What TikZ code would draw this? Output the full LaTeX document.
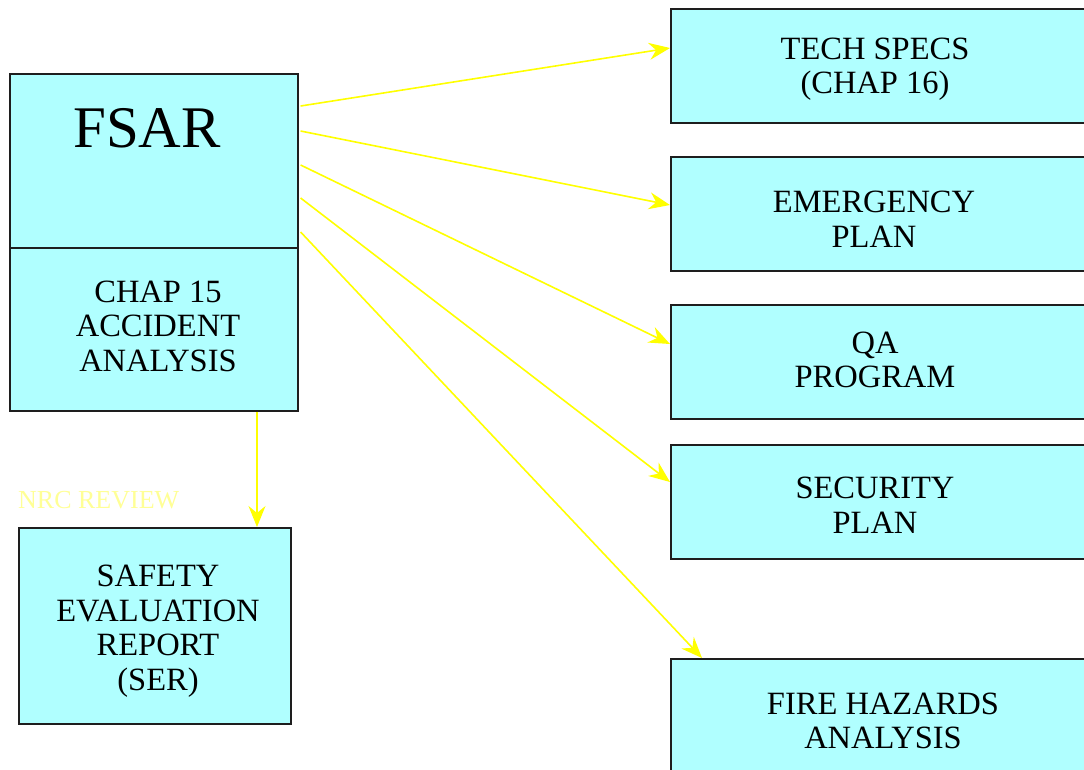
\documentclass[tikz,border=0pt]{standalone}
\usepackage{fontspec}
\setmainfont{Liberation Serif}
\usetikzlibrary{arrows.meta,calc}
\definecolor{boxfill}{RGB}{176,255,255}
\definecolor{boxline}{RGB}{30,30,30}
\definecolor{link}{RGB}{255,255,0}
\definecolor{notetext}{RGB}{255,255,150}
\tikzset{
  docbox/.style={draw=boxline, fill=boxfill, line width=1.6pt, inner sep=0pt, align=center},
  rightbox/.style={docbox, minimum width=420pt, minimum height=114pt, anchor=north west},
  label/.style={align=center, font=\fontsize{32.5}{34.5}\selectfont},
  flow/.style={draw=link, line width=1.6pt, -{Stealth[length=21pt,width=17pt,inset=7pt]}}
}
\begin{document}
\begin{tikzpicture}[x=1pt,y=-1pt]
\useasboundingbox (0,0) rectangle (1084,769);
\clip (0,0) rectangle (1084,769);
\fill[white] (0,0) rectangle (1084,769);

% main document box with its chapter 15 section
\node[docbox, minimum width=288pt, minimum height=174pt, anchor=north west] (fsar) at (9,73) {};
\node[docbox, minimum width=288pt, minimum height=163pt, anchor=north west] (chap) at (9,247) {};
\node[font=\fontsize{59}{60}\selectfont, anchor=center] (fsartxt) at (147,128) {FSAR};
\node[label] (chaptxt) at (158,326) {CHAP 15\\ACCIDENT\\ANALYSIS};

% review outcome
\node[docbox, minimum width=272pt, minimum height=196pt, anchor=north west] (ser) at (18,527) {};
\node[label] (sertxt) at (158,631) {SAFETY\\EVALUATION\\REPORT\\(SER)};
\node[anchor=west, text=notetext, font=\fontsize{26}{27}\selectfont, inner sep=0pt] (nrc) at (18,500) {NRC REVIEW};

% derived programs
\node[rightbox] (tech) at (670,8) {};
\node[label] (techtxt) at (875,69) {TECH SPECS\\(CHAP 16)};
\node[rightbox] (emer) at (670,156) {};
\node[label] (emertxt) at (874,219) {EMERGENCY\\PLAN};
\node[rightbox] (qa) at (670,304) {};
\node[label] (qatxt) at (875,360) {QA\\PROGRAM};
\node[rightbox] (sec) at (670,444) {};
\node[label] (sectxt) at (875,505) {SECURITY\\PLAN};
\node[rightbox] (fire) at (670,658) {};
\node[label] (firetxt) at (883,721) {FIRE HAZARDS\\ANALYSIS};

% connector end points on the box edges
\coordinate (s1) at ($(fsar.north east)+(2,33)$);
\coordinate (s2) at ($(fsar.north east)+(2,58)$);
\coordinate (s3) at ($(fsar.north east)+(2,92)$);
\coordinate (s4) at ($(fsar.north east)+(2,125)$);
\coordinate (s5) at ($(fsar.north east)+(2,159)$);
\coordinate (t1) at ($(tech.north west)+(0,40)$);
\coordinate (t2) at ($(emer.north west)+(0,49)$);
\coordinate (t3) at ($(qa.north west)+(0,40)$);
\coordinate (t4) at ($(sec.north west)+(0,38)$);
\coordinate (t5) at ($(fire.north west)+(32,0)$);
\coordinate (d0) at ($(chap.south west)+(248,0)$);
\coordinate (d1) at (d0 |- ser.north);

\draw[flow] (s1) -- (t1);
\draw[flow] (s2) -- (t2);
\draw[flow] (s3) -- (t3);
\draw[flow] (s4) -- (t4);
\draw[flow] (s5) -- (t5);
\draw[flow] (d0) -- (d1);
\end{tikzpicture}
\end{document}
